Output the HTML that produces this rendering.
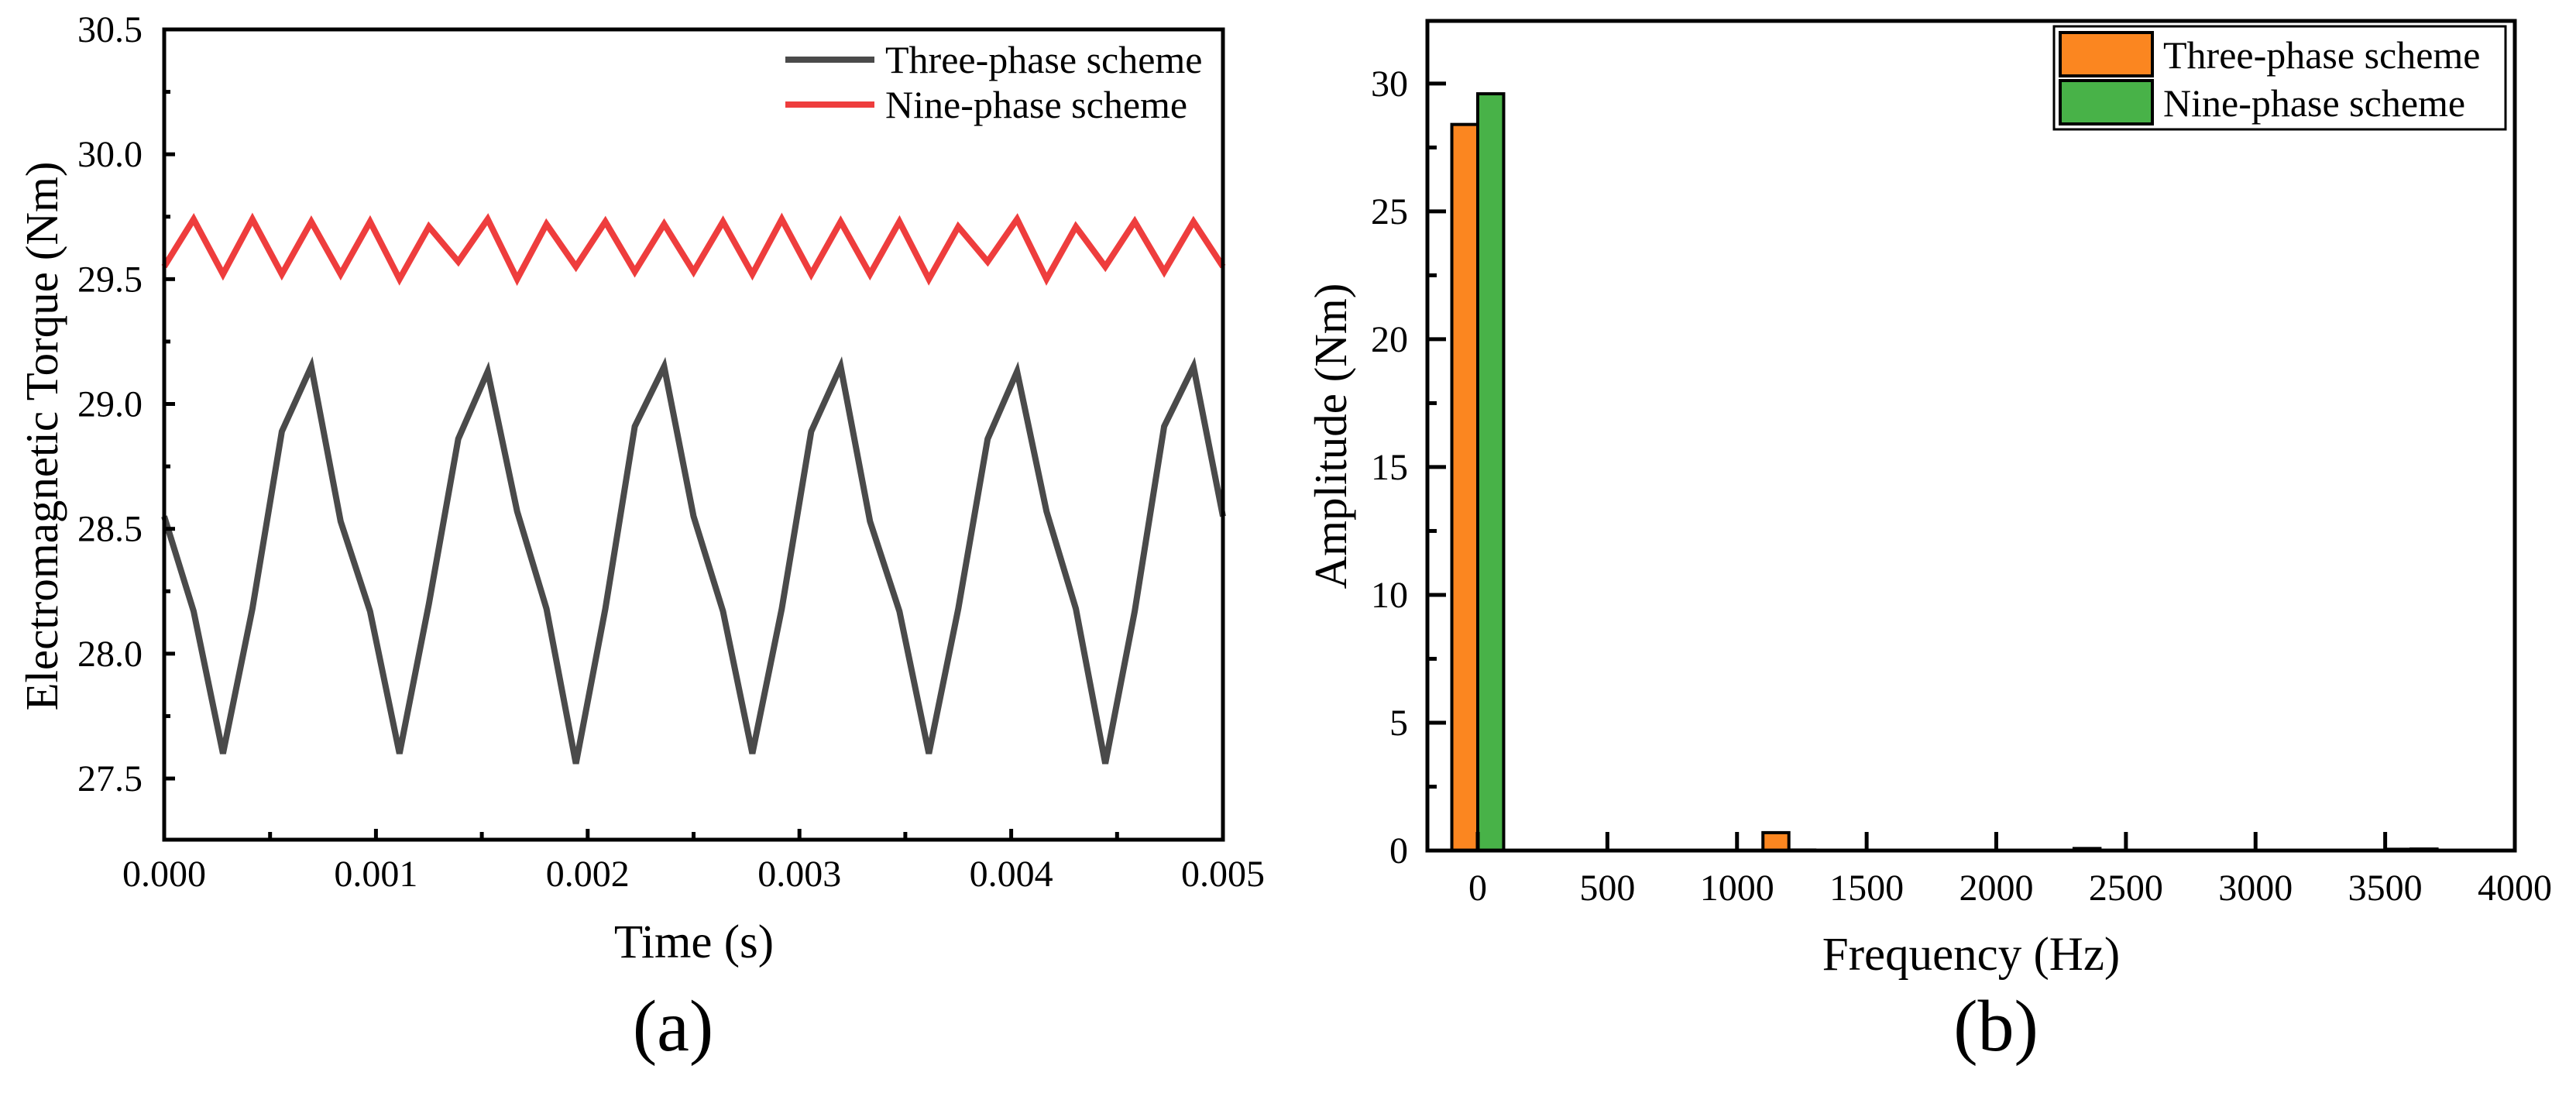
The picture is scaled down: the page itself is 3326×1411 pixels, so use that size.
<!DOCTYPE html>
<html><head><meta charset="utf-8">
<style>
html,body{margin:0;padding:0;background:#fff;}
svg{display:block;font-family:"Liberation Serif","Times New Roman",serif;}
</style></head>
<body>
<svg id="fig" width="3326" height="1411" viewBox="0 0 3326 1411" xmlns="http://www.w3.org/2000/svg"></svg>
<script>
// ---------- Chart (a) data ----------
const timeStep = 0.005/36;
const threePhaseTorque = [28.55,28.17,27.60,28.18,28.89,29.15,
  28.53,28.17,27.60,28.20,28.86,29.13,
  28.57,28.18,27.56,28.18,28.91,29.15,
  28.55,28.17,27.60,28.18,28.89,29.15,
  28.53,28.17,27.60,28.18,28.86,29.13,
  28.57,28.18,27.56,28.17,28.91,29.15,28.55];
const ninePhaseTorque = [29.55,29.74,29.52,29.74,29.52,29.73,29.52,29.73,29.50,29.71,29.57,29.74,29.50,29.72,29.55,29.73,29.53,29.72,29.53,29.73,29.52,29.74,29.52,29.73,29.52,29.73,29.50,29.71,29.57,29.74,29.50,29.71,29.55,29.73,29.53,29.73,29.55];
const aXTicks = [0,0.001,0.002,0.003,0.004,0.005];
const aXTickLabels = ["0.000","0.001","0.002","0.003","0.004","0.005"];
const aYTicks = [27.5,28.0,28.5,29.0,29.5,30.0,30.5];
const aYTickLabels = ["27.5","28.0","28.5","29.0","29.5","30.0","30.5"];
// ---------- Chart (b) data ----------
const freqCategories = [0,1200,2400,3600];
const threePhaseAmp = [28.4,0.7,0.08,0.05];
const ninePhaseAmp = [29.6,0.02,0.01,0.06];
const bXTicks = [0,500,1000,1500,2000,2500,3000,3500,4000];
const bYTicks = [0,5,10,15,20,25,30];

const NS="http://www.w3.org/2000/svg";
const svg=document.getElementById('fig');
function el(tag,attrs,parent){const e=document.createElementNS(NS,tag);for(const k in attrs)e.setAttribute(k,attrs[k]);(parent||svg).appendChild(e);return e;}
function txt(s,attrs,parent){const e=el('text',attrs,parent);e.textContent=s;return e;}

// ===== Chart (a) =====
const A={l:212,r:1579,t:38,b:1084,x0:0,x1:0.005,y0:27.255,y1:30.5};
const ax=v=>A.l+(v-A.x0)/(A.x1-A.x0)*(A.r-A.l);
const ay=v=>A.b-(v-A.y0)/(A.y1-A.y0)*(A.b-A.t);
const gA=el('g',{});


function series(vals,color,name){
  const pts=vals.map((v,i)=>ax(i*timeStep).toFixed(1)+','+ay(v).toFixed(1)).join(' ');
  const p=el('polyline',{points:pts,fill:'none',stroke:color,'stroke-width':8,'stroke-linejoin':'miter'},gA);
  
  
}
series(ninePhaseTorque,'#ee3d3d','nine-phase-torque-line');
series(threePhaseTorque,'#4a4a4a','three-phase-torque-line');
aXTicks.forEach((v,i)=>{
  const t=el('line',{x1:ax(v),x2:ax(v),y1:A.b,y2:A.b-14,stroke:'#000','stroke-width':5},gA);
  
  
  if(i<aXTicks.length-1){const m=(v+aXTicks[i+1])/2;el('line',{x1:ax(m),x2:ax(m),y1:A.b,y2:A.b-10,stroke:'#000','stroke-width':5},gA);}
  const l=txt(aXTickLabels[i],{x:ax(v),y:1144,'font-size':48,'text-anchor':'middle'},gA);
  
  
});
aYTicks.forEach((v,i)=>{
  el('line',{x1:A.l,x2:A.l+14,y1:ay(v),y2:ay(v),stroke:'#000','stroke-width':5},gA);
  if(i<aYTicks.length-1){const m=(v+aYTicks[i+1])/2;el('line',{x1:A.l,x2:A.l+8,y1:ay(m),y2:ay(m),stroke:'#000','stroke-width':5},gA);}
  const l=txt(aYTickLabels[i],{x:184,y:ay(v)+16,'font-size':48,'text-anchor':'end'},gA);
  
  
});
const fa=el('rect',{x:A.l,y:A.t,width:A.r-A.l,height:A.b-A.t,fill:'none',stroke:'#000','stroke-width':5},gA);


const la=el('g',{},gA);


el('line',{x1:1014,x2:1129,y1:77,y2:77,stroke:'#4a4a4a','stroke-width':8},la);
el('line',{x1:1014,x2:1129,y1:135,y2:135,stroke:'#ee3d3d','stroke-width':8},la);
const le1=txt('Three-phase scheme',{x:1143,y:94,'font-size':50},la);


const le2=txt('Nine-phase scheme',{x:1143,y:152,'font-size':50},la);


const xta=txt('Time (s)',{x:896,y:1236,'font-size':61,'text-anchor':'middle'},gA);


const yta=txt('Electromagnetic Torque (Nm)',{x:0,y:0,'font-size':59,'text-anchor':'middle',transform:'translate(74,563) rotate(-90)'},gA);


const capA=txt('(a)',{x:869,y:1356,'font-size':94,'text-anchor':'middle'},gA);



// ===== Chart (b) =====
const B={l:1843,r:3247,t:27,b:1098,y0:0,y1:32.45};
const bx=f=>1908+f*(B.r-1908)/4000;
const by=v=>B.b-(v-B.y0)/(B.y1-B.y0)*(B.b-B.t);
const barW=100;
const gB=el('g',{});


freqCategories.forEach((f,i)=>{
  const o=el('rect',{x:bx(f-barW),y:by(threePhaseAmp[i]),width:bx(f)-bx(f-barW),height:by(0)-by(threePhaseAmp[i]),fill:'#fb8620',stroke:'#000','stroke-width':4},gB);
  
  
  const g=el('rect',{x:bx(f),y:by(ninePhaseAmp[i]),width:bx(f+barW)-bx(f),height:by(0)-by(ninePhaseAmp[i]),fill:'#48b248',stroke:'#000','stroke-width':4},gB);
  
  
});
bXTicks.forEach((v,i)=>{
  el('line',{x1:bx(v),x2:bx(v),y1:B.b,y2:B.b-24,stroke:'#000','stroke-width':5},gB);
  const l=txt(String(v),{x:bx(v),y:1162,'font-size':48,'text-anchor':'middle'},gB);
  
  
});
bYTicks.forEach((v,i)=>{
  el('line',{x1:B.l,x2:B.l+24,y1:by(v),y2:by(v),stroke:'#000','stroke-width':5},gB);
  const m=v+2.5; if(m<B.y1) el('line',{x1:B.l,x2:B.l+12,y1:by(m),y2:by(m),stroke:'#000','stroke-width':5},gB);
  const l=txt(String(v),{x:1818,y:by(v)+16,'font-size':48,'text-anchor':'end'},gB);
  
  
});
const fb=el('rect',{x:B.l,y:B.t,width:B.r-B.l,height:B.b-B.t,fill:'none',stroke:'#000','stroke-width':5},gB);


const lb=el('g',{},gB);


el('rect',{x:2652,y:34,width:583,height:133,fill:'#fff',stroke:'#000','stroke-width':3},lb);
el('rect',{x:2660,y:42,width:119,height:56,fill:'#fb8620',stroke:'#000','stroke-width':4},lb);
el('rect',{x:2660,y:104,width:119,height:56,fill:'#48b248',stroke:'#000','stroke-width':4},lb);
const lb1=txt('Three-phase scheme',{x:2793,y:88,'font-size':50},lb);


const lb2=txt('Nine-phase scheme',{x:2793,y:150,'font-size':50},lb);


const xtb=txt('Frequency (Hz)',{x:2545,y:1252,'font-size':61,'text-anchor':'middle'},gB);


const ytb=txt('Amplitude (Nm)',{x:0,y:0,'font-size':59,'text-anchor':'middle',transform:'translate(1738,563) rotate(-90)'},gB);


const capB=txt('(b)',{x:2577,y:1356,'font-size':94,'text-anchor':'middle'},gB);


</script>
</body></html>
